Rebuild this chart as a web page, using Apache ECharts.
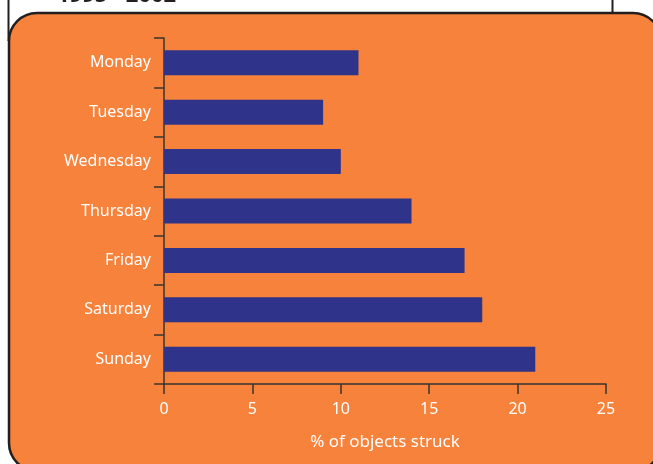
<!DOCTYPE html>
<html>
<head>
<meta charset="utf-8">
<script src="https://cdn.jsdelivr.net/npm/echarts@6/dist/echarts.min.js"></script>
<style>
  html, body { margin: 0; padding: 0; background: #fff; }
  #chart { width: 653px; height: 464px; }
</style>
</head>
<body>
<div id="chart"></div>
<script>
// days listed top to bottom as in the picture
const days = ['Monday', 'Tuesday', 'Wednesday', 'Thursday', 'Friday', 'Saturday', 'Sunday'];
const struckPct = [11, 9, 10, 14, 17, 18, 21];
const xTicks = [0, 5, 10, 15, 20, 25];
const xTitle = '% of objects struck';
const periodText = '1995 - 2002';

const font = '"Noto Sans", "Open Sans", sans-serif';
const axisDark = '#3a3530';

const chart = echarts.init(document.getElementById('chart'));

chart.setOption({
  backgroundColor: '#ffffff',
  animation: false,
  graphic: [
    {
      // white caption box left over from the page above
      type: 'rect',
      z: -20,
      shape: { x: 8.5, y: -10, width: 604, height: 50 },
      style: { fill: '#ffffff', stroke: '#231f20', lineWidth: 2 },
    },
    {
      type: 'text',
      z: -19,
      x: 57,
      y: 6.5,
      style: {
        text: periodText,
        fill: '#231f20',
        font: 'bold 22px ' + font,
        verticalAlign: 'bottom',
      },
    },
    {
      type: 'rect',
      z: -10,
      shape: { x: 9, y: 13, width: 652, height: 458, r: 28 },
      style: { fill: '#f6823b', stroke: '#231f20', lineWidth: 2.5 },
    },
  ],
  grid: {
    left: 164,
    right: 47,
    top: 38,
    bottom: 80,
  },
  xAxis: {
    type: 'value',
    min: xTicks[0],
    max: xTicks[xTicks.length - 1],
    interval: 5,
    name: xTitle,
    nameLocation: 'middle',
    nameGap: 50,
    nameTextStyle: { color: '#ffffff', fontSize: 17, fontFamily: font },
    axisLine: { show: true, lineStyle: { color: axisDark, width: 1.5 } },
    axisTick: { show: true, length: 10, lineStyle: { color: axisDark, width: 1.5 } },
    axisLabel: {
      color: '#ffffff',
      fontSize: 16,
      fontFamily: font,
      margin: 17,
      customValues: xTicks,
    },
    splitLine: { show: false },
  },
  yAxis: {
    type: 'category',
    data: days,
    inverse: true,
    axisLine: { show: true, lineStyle: { color: axisDark, width: 1.5 } },
    axisTick: { show: true, length: 10, lineStyle: { color: axisDark, width: 1.5 } },
    axisLabel: {
      color: '#ffffff',
      fontSize: 16,
      fontFamily: font,
      margin: 13,
    },
  },
  series: [
    {
      type: 'bar',
      data: struckPct,
      barWidth: 25,
      itemStyle: { color: '#2f3389' },
    },
  ],
});
</script>
</body>
</html>
